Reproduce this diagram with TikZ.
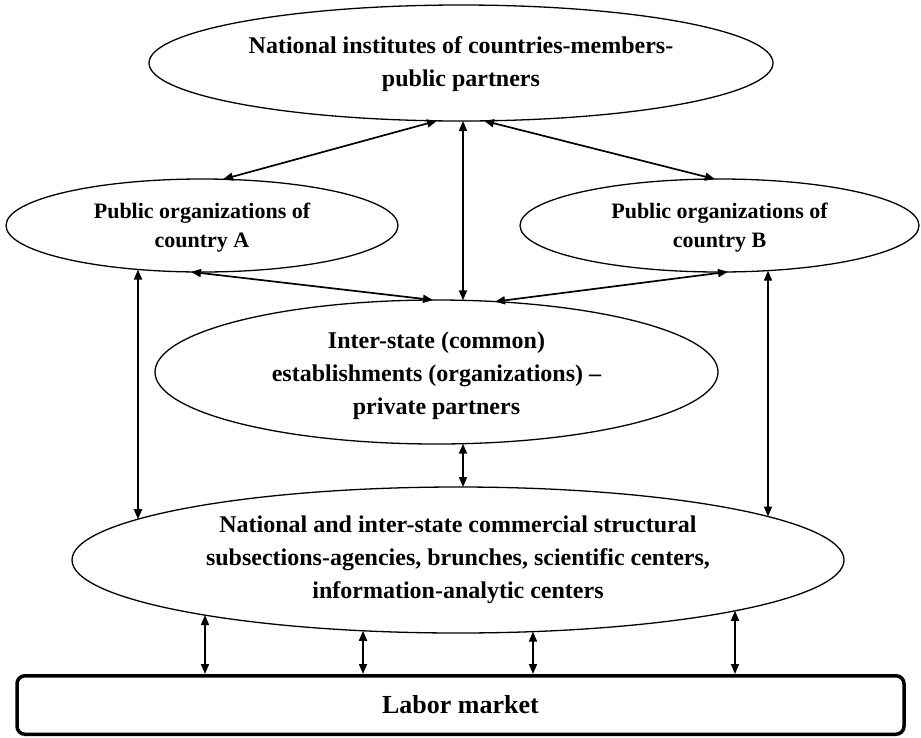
\documentclass[tikz,border=0pt]{standalone}
\usepackage{fontspec}
\setmainfont{Liberation Serif}
\usetikzlibrary{shapes.geometric,arrows.meta,calc}
\begin{document}
\begin{tikzpicture}[x=1pt,y=-1pt,
  ell/.style={draw, ellipse, line width=1.3pt, inner sep=0pt},
  txt/.style={align=center, inner sep=0pt, font=\bfseries\fontsize{22}{29}\selectfont},
  bigtxt/.style={align=center, inner sep=0pt, font=\bfseries\fontsize{24}{33}\selectfont},
  arr/.style={line width=1.7pt, {Triangle[length=10pt,width=8pt]}-{Triangle[length=10pt,width=8pt]}},
  labbox/.style={draw, rounded corners=8pt, line width=3.5pt, inner sep=0pt,
    font=\bfseries\fontsize{26}{30}\selectfont}
]
\useasboundingbox (0,0) rectangle (921,737);

% ellipses
\node[ell, minimum width=624pt, minimum height=116pt] (T) at (461,63) {};
\node[ell, minimum width=392pt, minimum height=93pt] (A) at (202,225.5) {};
\node[ell, minimum width=399pt, minimum height=93pt] (B) at (719.5,225.5) {};
\node[ell, minimum width=563pt, minimum height=144pt] (M) at (436.5,372) {};
\node[ell, minimum width=772pt, minimum height=146pt] (N) at (458,560) {};
\node[labbox, minimum width=887pt, minimum height=58.5pt] (L) at (460.5,705) {Labor market};

% texts
\node[bigtxt] (Tt) at (461,64) {National institutes of countries-members-\\public partners};
\node[txt] (At) at (202,228) {Public organizations of\\country A};
\node[txt] (Bt) at (719.5,228) {Public organizations of\\country B};
\node[bigtxt] (Mt) at (436.5,375.5) {Inter-state (common)\\establishments (organizations) --\\private partners};
\node[bigtxt] (Nt) at (458,559.5) {National and inter-state commercial structural\\subsections-agencies, brunches, scientific centers,\\information-analytic centers};

% connectors (end points on the ellipse borders, given relative to the centres)
\draw[arr] ($(T.center)+(-24,57.8)$) -- ($(A.center)+(21,-46.2)$);
\draw[arr] ($(T.center)+(23,57.8)$) -- ($(B.center)+(-4.5,-46.4)$);
\draw[arr] ($(T.center)+(2,58)$) -- ($(M.center)+(26.5,-71.7)$);
\draw[arr] ($(A.center)+(-11,46.4)$) -- ($(M.center)+(-3.5,-72)$);
\draw[arr] ($(B.center)+(8.5,46.3)$) -- ($(M.center)+(58.5,-70.4)$);
\draw[arr] ($(A.center)+(-64,44)$) -- ($(N.center)+(-320,-40.8)$);
\draw[arr] ($(B.center)+(48.5,45.1)$) -- ($(N.center)+(310,-43.5)$);
\draw[arr] ($(M.center)+(26.5,71.7)$) -- ($(N.center)+(5,-73)$);
\foreach \dx/\dy [count=\i] in {-253/55.1,-95/70.8,75/71.6,277/50.8}{
  \coordinate (nb\i) at ($(N.center)+(\dx,\dy)$);
  \draw[arr] (nb\i) -- (nb\i |- L.north);
}
\end{tikzpicture}
\end{document}
